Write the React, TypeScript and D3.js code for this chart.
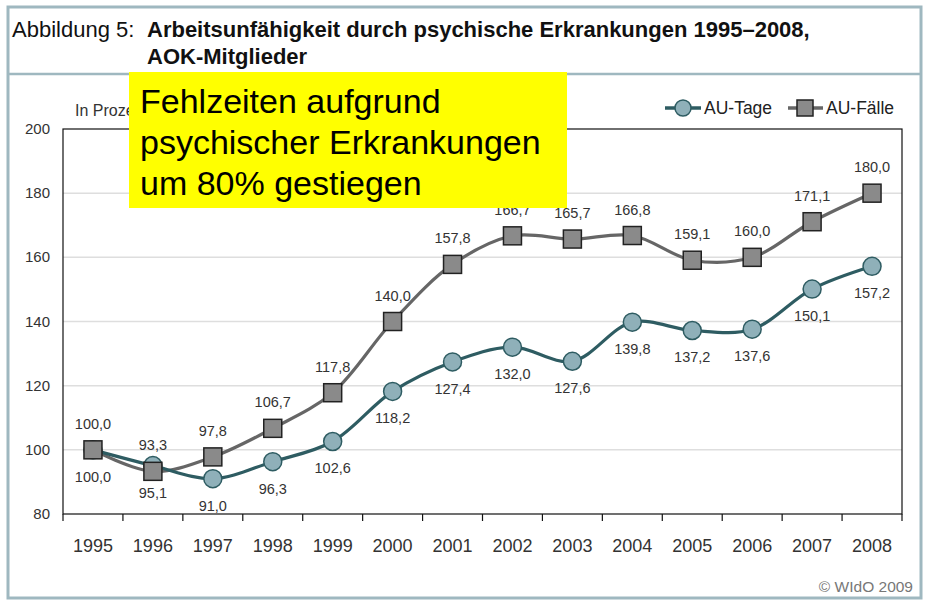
import React from 'react';
import * as d3 from 'd3';

const years = ['1995','1996','1997','1998','1999','2000','2001','2002','2003','2004','2005','2006','2007','2008'];
const auTage = [100.0, 95.1, 91.0, 96.3, 102.6, 118.2, 127.4, 132.0, 127.6, 139.8, 137.2, 137.6, 150.1, 157.2];
const auFaelle = [100.0, 93.3, 97.8, 106.7, 117.8, 140.0, 157.8, 166.7, 165.7, 166.8, 159.1, 160.0, 171.1, 180.0];
const yTicks = [80, 100, 120, 140, 160, 180, 200];
const gridTicks = [100, 120, 140, 160, 180];
const calloutLines = ['Fehlzeiten aufgrund', 'psychischer Erkrankungen', 'um 80% gestiegen'];

const W = 929, H = 608;
const plot = { left: 63, right: 902, top: 129, bottom: 514 };

export default function App() {
  const x = d3.scaleBand<string>().domain(years).range([plot.left, plot.right]);
  const y = d3.scaleLinear().domain([80, 200]).range([plot.bottom, plot.top]);
  const cx = (yr: string) => (x(yr) as number) + x.bandwidth() / 2;
  const fmt = (v: number) => d3.format('.1f')(v).replace('.', ',');
  const line = d3.line<number>()
    .x((_, i) => cx(years[i]))
    .y(d => y(d))
    .curve(d3.curveCatmullRom.alpha(0.5));
  const boundaries = years.map(yr => x(yr) as number).concat([plot.right]);
  const font = 'Liberation Sans, Arial, sans-serif';
  const frameColor = '#9fb8c0';
  const tageLine = '#2e5c62';
  const tageFill = '#8fb0b9';
  const faelleLine = '#666666';
  const faelleFill = '#8a8a8a';

  return (
    <svg width={W} height={H} style={{ position: 'absolute', left: 0, top: 0, background: '#fff' }} fontFamily={font}>
      <rect x={0} y={0} width={W} height={H} fill="#fff" />
      {/* frame */}
      <rect x={8} y={7} width={913} height={591} fill="none" stroke={frameColor} strokeWidth={3} />
      <line x1={8} x2={921} y1={74} y2={74} stroke={frameColor} strokeWidth={2.5} />
      {/* title */}
      <text x={12} y={37} fontSize={22} fill="#111">Abbildung 5:</text>
      <text x={147} y={37} fontSize={22} fontWeight="bold" fill="#111">Arbeitsunfähigkeit durch psychische Erkrankungen 1995–2008,</text>
      <text x={147} y={64} fontSize={22} fontWeight="bold" fill="#111">AOK-Mitglieder</text>

      {/* y label */}
      <text x={75} y={116} fontSize={16} fill="#333">In Prozent</text>

      {/* grid */}
      {gridTicks.map(t => (
        <line key={t} x1={plot.left} x2={plot.right} y1={y(t)} y2={y(t)} stroke="#dedede" strokeWidth={1.5} />
      ))}
      {/* plot box */}
      <rect x={plot.left} y={plot.top} width={plot.right - plot.left} height={plot.bottom - plot.top} fill="none" stroke="#111" strokeWidth={1.2} />
      {boundaries.map((b, i) => (
        <line key={i} x1={b} x2={b} y1={plot.bottom} y2={plot.bottom + 7} stroke="#111" strokeWidth={1.2} />
      ))}
      {/* y tick labels */}
      {yTicks.map(t => (
        <text key={t} x={50} y={y(t) + 5} fontSize={15} textAnchor="end" fill="#333">{t}</text>
      ))}
      {/* x labels */}
      {years.map(yr => (
        <text key={yr} x={cx(yr)} y={552} fontSize={18} textAnchor="middle" fill="#333">{yr}</text>
      ))}

      {/* lines */}
      <path d={line(auFaelle) || ''} fill="none" stroke={faelleLine} strokeWidth={3.2} />
      <path d={line(auTage) || ''} fill="none" stroke={tageLine} strokeWidth={3.2} />
      {auTage.map((v, i) => (
        <circle key={'c' + i} cx={cx(years[i])} cy={y(v)} r={9} fill={tageFill} stroke={tageLine} strokeWidth={1.5} />
      ))}
      {auFaelle.map((v, i) => (
        <rect key={'s' + i} x={cx(years[i]) - 9} y={y(v) - 9} width={18} height={18} fill={faelleFill} stroke="#222" strokeWidth={1.5} />
      ))}
      {/* labels */}
      {auTage.map((v, i) => (
        <text key={'lt' + i} x={cx(years[i])} y={y(v) + 32} fontSize={14.5} textAnchor="middle" fill="#333">{fmt(v)}</text>
      ))}
      {auFaelle.map((v, i) => (
        <text key={'lf' + i} x={cx(years[i])} y={y(v) - 21} fontSize={14.5} textAnchor="middle" fill="#333">{fmt(v)}</text>
      ))}

      {/* legend */}
      <g>
        <line x1={665} x2={701} y1={108} y2={108} stroke={tageLine} strokeWidth={3.5} />
        <circle cx={683} cy={108} r={8} fill={tageFill} stroke={tageLine} strokeWidth={1.5} />
        <text x={704} y={114} fontSize={17.5} fill="#222">AU-Tage</text>
        <line x1={788} x2={823} y1={108} y2={108} stroke={faelleLine} strokeWidth={3.5} />
        <rect x={797} y={100} width={16} height={16} fill={faelleFill} stroke="#222" strokeWidth={1.5} />
        <text x={826} y={114} fontSize={17.5} fill="#222">AU-Fälle</text>
      </g>

      {/* copyright */}
      <text x={913} y={592} fontSize={15.5} textAnchor="end" fill="#777">© WIdO 2009</text>

      {/* callout */}
      <rect x={129} y={72} width={438} height={136} fill="#ffff00" />
      {calloutLines.map((t, i) => (
        <text key={t} x={140} y={113 + i * 41} fontSize={34} fill="#000">{t}</text>
      ))}
    </svg>
  );
}
